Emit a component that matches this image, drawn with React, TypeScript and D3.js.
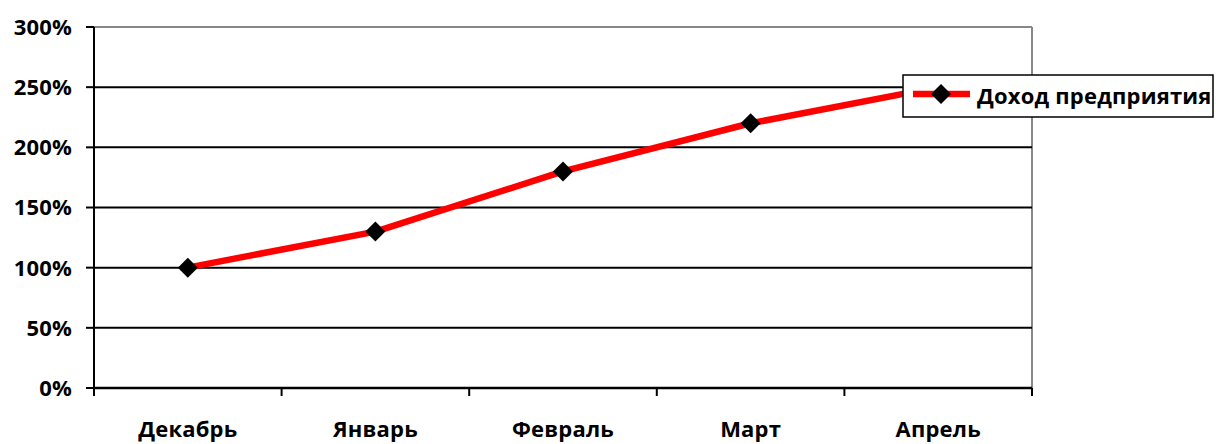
import React from "react";
import * as d3 from "d3";

const months = ["Декабрь", "Январь", "Февраль", "Март", "Апрель"];
const income = [100, 130, 180, 220, 250];
const yTicks = [0, 50, 100, 150, 200, 250, 300];
const seriesName = "Доход предприятия";

const W = 1216;
const H = 444;
const left = 94;
const right = 1032;
const top = 27;
const bottom = 388;
const font = "'Open Sans', sans-serif";
const fontSize = 22;
const spacing = "0.2px";

export default function App() {
  const x = d3.scaleBand<string>().domain(months).range([left, right]).paddingInner(0).paddingOuter(0);
  const y = d3.scaleLinear().domain([0, 300]).range([bottom, top]);
  const cx = (m: string) => (x(m) as number) + x.bandwidth() / 2;

  const line = d3
    .line<number>()
    .x((_, i) => cx(months[i]))
    .y((d) => y(d));

  const diamond = (px: number, py: number, r: number) =>
    `M${px},${py - r}L${px + r},${py}L${px},${py + r}L${px - r},${py}Z`;

  const boundaries = months.map((m) => x(m) as number).concat([right]);

  return (
    <svg width={W} height={H} style={{ position: "absolute", left: 0, top: 0, background: "#fff" }}>
      {/* plot area frame */}
      <line x1={left} x2={right} y1={top} y2={top} stroke="#888" strokeWidth={2} />
      <line x1={right} x2={right} y1={top} y2={bottom} stroke="#888" strokeWidth={2} />
      {/* horizontal gridlines */}
      {yTicks
        .filter((t) => t > 0 && t < 300)
        .map((t) => (
          <line key={t} x1={left} x2={right} y1={y(t)} y2={y(t)} stroke="#000" strokeWidth={2} />
        ))}
      {/* y axis */}
      <line x1={left} x2={left} y1={top} y2={bottom + 8} stroke="#000" strokeWidth={2} />
      {yTicks.map((t) => (
        <g key={t}>
          <line x1={left - 8} x2={left} y1={y(t)} y2={y(t)} stroke="#000" strokeWidth={2} />
          <text
            x={72}
            y={y(t)}
            dy="0.36em"
            textAnchor="end"
            fontFamily={font}
            fontWeight="bold"
            fontSize={fontSize}
            fill="#000"
            style={{ letterSpacing: spacing }}
          >
            {t}%
          </text>
        </g>
      ))}
      {/* x axis */}
      <line x1={left} x2={right} y1={bottom} y2={bottom} stroke="#000" strokeWidth={2.5} />
      {boundaries.map((b, i) => (
        <line key={i} x1={b} x2={b} y1={bottom} y2={bottom + 8} stroke="#000" strokeWidth={2} />
      ))}
      {months.map((m) => (
        <text
          key={m}
          x={cx(m)}
          y={437}
          textAnchor="middle"
          fontFamily={font}
          fontWeight="bold"
          fontSize={fontSize}
          fill="#000"
          style={{ letterSpacing: spacing }}
        >
          {m}
        </text>
      ))}
      {/* series */}
      <path d={line(income) || ""} fill="none" stroke="#ff0000" strokeWidth={6.5} strokeLinejoin="round" />
      {income.map((v, i) => (
        <path key={i} d={diamond(cx(months[i]), y(v), 10)} fill="#000" />
      ))}
      {/* legend */}
      <rect x={903} y={75} width={310} height={42} fill="#fff" stroke="#000" strokeWidth={1.5} />
      <line x1={913} x2={970} y1={94} y2={94} stroke="#ff0000" strokeWidth={6.5} />
      <path d={diamond(941, 94, 10)} fill="#000" />
      <text
        x={977}
        y={96}
        dy="0.36em"
        fontFamily={font}
        fontWeight="bold"
        fontSize={fontSize}
        fill="#000"
        style={{ letterSpacing: spacing }}
      >
        {seriesName}
      </text>
    </svg>
  );
}
